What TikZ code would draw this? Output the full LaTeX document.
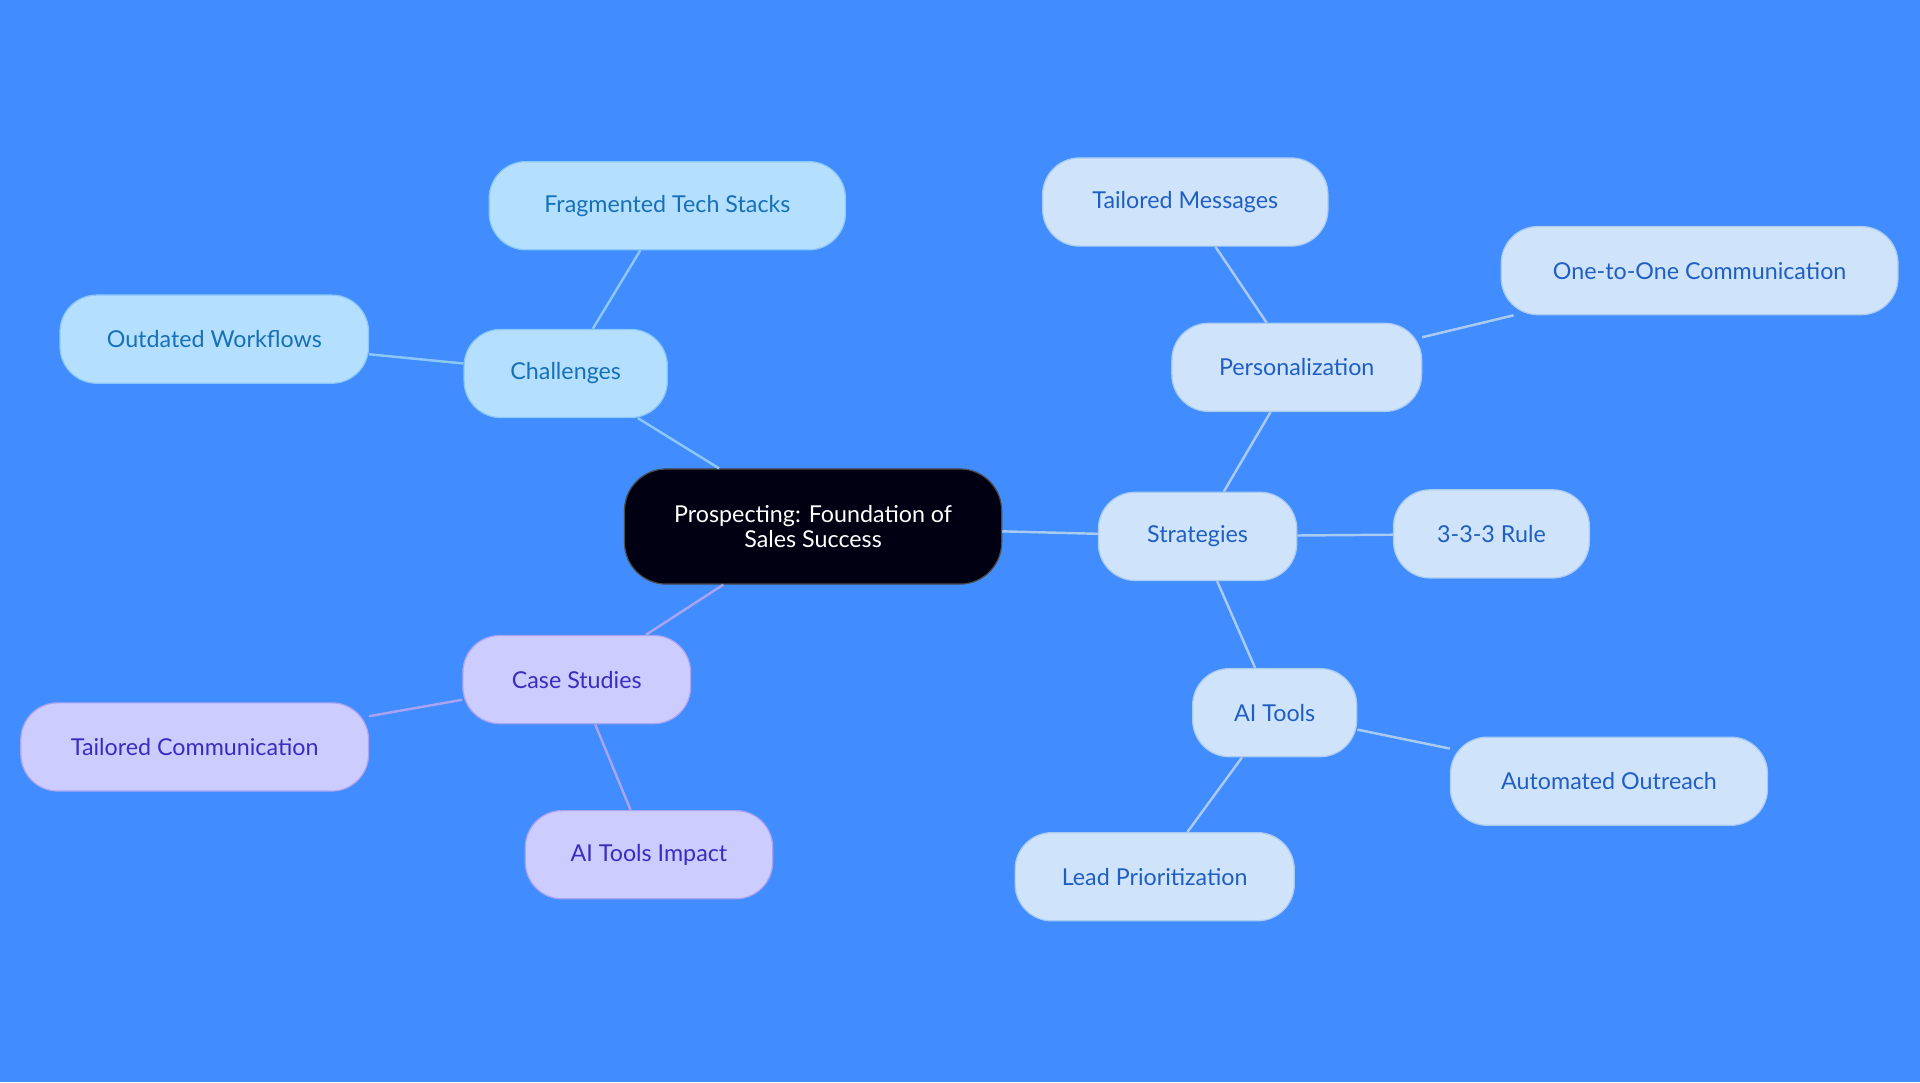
\documentclass[tikz,border=0pt]{standalone}
\usepackage{fontspec}
\setmainfont{Lato}
\begin{document}
\definecolor{bg}{HTML}{418CFF}
\definecolor{cfill}{HTML}{B4DFFF}\definecolor{cdraw}{HTML}{8CC8F5}\definecolor{ctext}{HTML}{1670B8}
\definecolor{sfill}{HTML}{CFE3FA}\definecolor{sdraw}{HTML}{A9CBF2}\definecolor{stext}{HTML}{1F5FC4}
\definecolor{pfill}{HTML}{CCCCFF}\definecolor{pdraw}{HTML}{A9A4F0}\definecolor{ptext}{HTML}{3A2CC0}
\begin{tikzpicture}[x=1pt,y=-1pt,
 base/.style={rounded corners=30pt,minimum height=72pt,align=center,font=\fontsize{19}{22}\selectfont,line width=1pt},
 ch/.style={base,fill=cfill,draw=cdraw,text=ctext},
 st/.style={base,fill=sfill,draw=sdraw,text=stext},
 cs/.style={base,fill=pfill,draw=pdraw,text=ptext},
 ce/.style={draw=cdraw,line width=2pt},
 se/.style={draw=sdraw,line width=2pt},
 pe/.style={draw=pdraw,line width=2pt}]
\fill[bg] (0,0) rectangle (1568,884);
\useasboundingbox (0,0) rectangle (1568,884);
\node[base,fill=black!93!blue,draw=black!70,text=white,minimum width=308pt,minimum height=94pt,rounded corners=34pt] (m) at (664,430) {Prospecting: Foundation of\\[-2pt]Sales Success};
\node[ch,minimum width=166pt] (c) at (462,305) {Challenges};
\node[ch,minimum width=291pt] (c1) at (545,168) {Fragmented Tech Stacks};
\node[ch,minimum width=252pt] (c2) at (175,277) {Outdated Workflows};
\node[cs,minimum width=186pt] (p) at (471,555) {Case Studies};
\node[cs,minimum width=284pt] (p1) at (159,610) {Tailored Communication};
\node[cs,minimum width=202pt] (p2) at (530,698) {AI Tools Impact};
\node[st,minimum width=162pt] (s) at (978,438) {Strategies};
\node[st,minimum width=204pt] (s1) at (1059,300) {Personalization};
\node[st,minimum width=233pt] (s11) at (968,165) {Tailored Messages};
\node[st,minimum width=324pt] (s12) at (1388,221) {One-to-One Communication};
\node[st,minimum width=160pt] (s2) at (1218,436) {3-3-3 Rule};
\node[st,minimum width=134pt] (s3) at (1041,582) {AI Tools};
\node[st,minimum width=259pt] (s31) at (1314,638) {Automated Outreach};
\node[st,minimum width=228pt] (s32) at (943,716) {Lead Prioritization};
\begin{scope}[on background layer/.style={}]
\end{scope}
\path[ce] (m) -- (c) (c) -- (c1) (c) -- (c2);
\path[pe] (m) -- (p) (p) -- (p1) (p) -- (p2);
\path[se] (m) -- (s) (s) -- (s1) (s1) -- (s11) (s1) -- (s12) (s) -- (s2) (s) -- (s3) (s3) -- (s31) (s3) -- (s32);
\end{tikzpicture}
\end{document}
